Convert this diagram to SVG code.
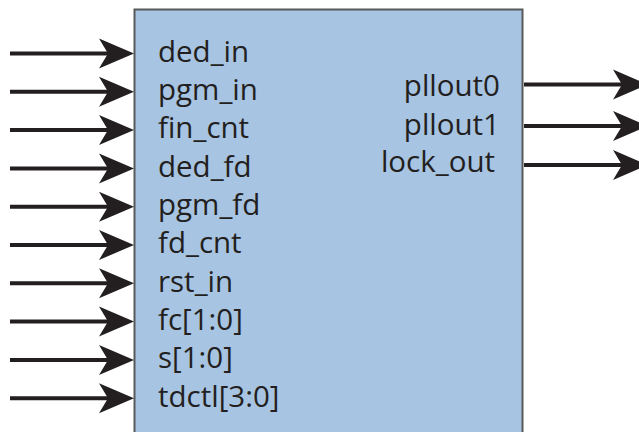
<svg xmlns="http://www.w3.org/2000/svg" width="639" height="432" viewBox="0 0 639 432">
<style>
.lbl{font-family:"Open Sans","Noto Sans",sans-serif;font-size:29.5px;fill:#231f20}
.w{stroke:#231f20;stroke-width:4;fill:none}
.h{fill:#231f20}
</style>
<defs>
<path id="ah" class="h" d="M0,0 L-35,-15 L-26,0 L-35,15 Z"/>
</defs>
<rect width="639" height="432" fill="#fff"/>
<g id="block">
<rect x="134.5" y="9.5" width="388" height="440" fill="#a7c4e2" stroke="#58595b" stroke-width="2"/>
<text class="lbl" x="158" y="61.7">ded_in</text>
<text class="lbl" x="158" y="100">pgm_in</text>
<text class="lbl" x="158" y="138.3">fin_cnt</text>
<text class="lbl" x="158" y="176.6">ded_fd</text>
<text class="lbl" x="158" y="215">pgm_fd</text>
<text class="lbl" x="158" y="253.3">fd_cnt</text>
<text class="lbl" x="158" y="291.7">rst_in</text>
<text class="lbl" x="158" y="330">fc[1:0]</text>
<text class="lbl" x="158" y="368.3">s[1:0]</text>
<text class="lbl" x="158" y="406.7">tdctl[3:0]</text>
<text class="lbl" x="500" y="95.7" text-anchor="end">pllout0</text>
<text class="lbl" x="500" y="135" text-anchor="end">pllout1</text>
<text class="lbl" x="495" y="171.7" text-anchor="end">lock_out</text>
</g>
<g id="connectors">
<path class="w" d="M10,53.5H110M10,91.8H110M10,130.1H110M10,168.4H110M10,206.7H110M10,245H110M10,283.3H110M10,321.6H110M10,359.9H110M10,398.2H110"/>
<use href="#ah" x="134" y="53.5"/>
<use href="#ah" x="134" y="91.8"/>
<use href="#ah" x="134" y="130.1"/>
<use href="#ah" x="134" y="168.4"/>
<use href="#ah" x="134" y="206.7"/>
<use href="#ah" x="134" y="245"/>
<use href="#ah" x="134" y="283.3"/>
<use href="#ah" x="134" y="321.6"/>
<use href="#ah" x="134" y="359.9"/>
<use href="#ah" x="134" y="398.2"/>
<path class="w" d="M524,84.5H622M524,126H622M524,165H622"/>
<use href="#ah" x="648" y="84.5"/>
<use href="#ah" x="648" y="126"/>
<use href="#ah" x="648" y="165"/>
</g>
</svg>
